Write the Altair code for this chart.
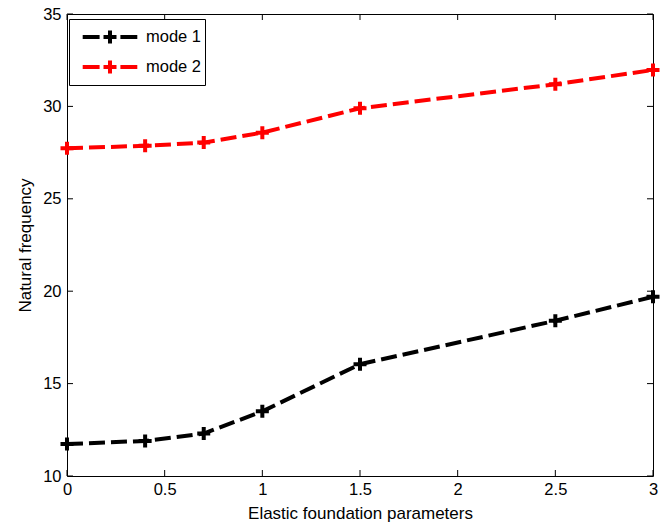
import altair as alt
import pandas as pd

# Elastic foundation parameter values and natural frequencies per mode
params = [0.0, 0.4, 0.7, 1.0, 1.5, 2.5, 3.0]
mode1 = [11.73, 11.90, 12.30, 13.50, 16.05, 18.40, 19.70]
mode2 = [27.73, 27.87, 28.04, 28.58, 29.90, 31.20, 31.97]
series_names = ["mode 1", "mode 2"]
series_colors = ["#000000", "#ff0000"]

x_ticks = [0, 0.5, 1, 1.5, 2, 2.5, 3]
y_ticks = [10, 15, 20, 25, 30, 35]

W, H = 586, 462
FONT = "Liberation Sans"

df = pd.DataFrame(
    {
        "param": params * 2,
        "freq": mode1 + mode2,
        "mode": [series_names[0]] * len(params) + [series_names[1]] * len(params),
    }
)

x_scale = alt.Scale(domain=[0, 3], nice=False, zero=False)
y_scale = alt.Scale(domain=[10, 35], nice=False, zero=False)
color_scale = alt.Scale(domain=series_names, range=series_colors)

# dashed line + plus marker glyph for the legend
legend_glyph = "M-2.1,0H-0.8M0.8,0H2.1M-0.5,0H0.5M0,-0.5V0.5"
plus_glyph = "M-1,0H1M0,-1V1"

x_axis = alt.Axis(
    values=x_ticks, format="~g", ticks=False, domain=False, grid=False,
    labelFlush=False, labelFontSize=16.5, labelPadding=5, labelColor="black",
    labelFont=FONT, title="Elastic foundation parameters", titleFontSize=17,
    titleFont=FONT, titleFontWeight="normal", titleColor="black", titlePadding=8,
)
y_axis = alt.Axis(
    values=y_ticks, format="~g", ticks=False, domain=False, grid=False,
    labelFlush=False, labelFontSize=16.5, labelPadding=6, labelColor="black",
    labelFont=FONT, title="Natural frequency", titleFontSize=17, titleFont=FONT,
    titleFontWeight="normal", titleColor="black", titlePadding=8,
)

legend = alt.Legend(
    title=None,
    orient="none",
    legendX=2,
    legendY=5,
    symbolType=legend_glyph,
    symbolSize=676,
    symbolStrokeWidth=4,
    symbolOffset=23,
    labelOffset=21,
    labelFontSize=16.5,
    labelFont=FONT,
    labelColor="black",
    padding=3,
    rowPadding=0,
    strokeColor="black",
    fillColor="white",
)

base = alt.Chart(df)

lines = base.mark_line(strokeWidth=4, strokeDash=[16, 6]).encode(
    x=alt.X("param:Q", scale=x_scale, axis=x_axis),
    y=alt.Y("freq:Q", scale=y_scale, axis=y_axis),
    color=alt.Color("mode:N", scale=color_scale, legend=legend),
)

markers = base.mark_point(
    shape=plus_glyph, size=169, filled=False, strokeWidth=4, opacity=1
).encode(
    x=alt.X("param:Q", scale=x_scale),
    y=alt.Y("freq:Q", scale=y_scale),
    color=alt.Color("mode:N", scale=color_scale, legend=None),
)

# inward-pointing tick marks on all four sides of the frame
yt = pd.DataFrame({"v": y_ticks})
xt = pd.DataFrame({"v": x_ticks})
tick_style = dict(color="black", strokeWidth=1)
y_left = alt.Chart(yt).mark_rule(**tick_style).encode(
    y=alt.Y("v:Q", scale=y_scale), x=alt.value(0), x2=alt.value(6)
)
y_right = alt.Chart(yt).mark_rule(**tick_style).encode(
    y=alt.Y("v:Q", scale=y_scale), x=alt.value(W - 6), x2=alt.value(W)
)
x_bottom = alt.Chart(xt).mark_rule(**tick_style).encode(
    x=alt.X("v:Q", scale=x_scale), y=alt.value(H - 6), y2=alt.value(H)
)
x_top = alt.Chart(xt).mark_rule(**tick_style).encode(
    x=alt.X("v:Q", scale=x_scale), y=alt.value(0), y2=alt.value(6)
)

chart = (
    alt.layer(y_left, y_right, x_bottom, x_top, lines, markers)
    .resolve_scale(color="shared")
    .properties(
        width=W,
        height=H,
        autosize=alt.AutoSizeParams(type="none"),
        padding={"left": 67, "top": 14, "right": 7, "bottom": 53},
        background="white",
    )
    .configure_view(stroke="black", strokeWidth=1)
)

chart.save("out.html", embed_options={"renderer": "svg", "actions": False})
